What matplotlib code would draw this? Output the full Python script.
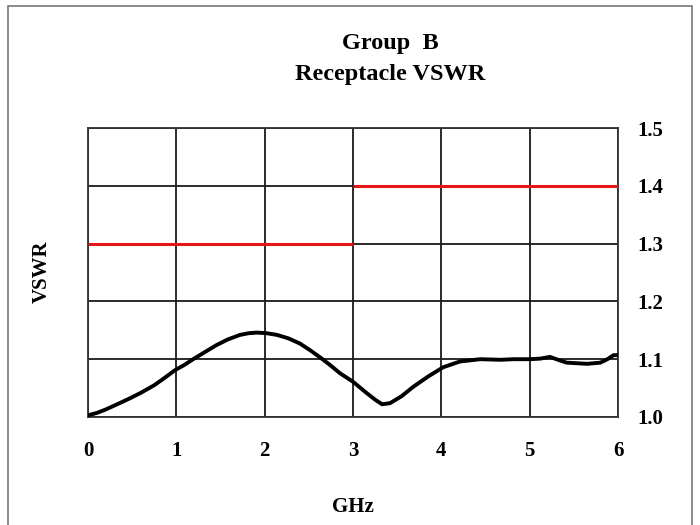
import matplotlib
matplotlib.use("Agg")
import matplotlib.pyplot as plt
from matplotlib.patches import Rectangle

plt.rcParams['font.family'] = ['Liberation Serif', 'DejaVu Serif']
plt.rcParams['font.weight'] = 'bold'

# measured VSWR curve
ghz = [0.0, 0.1, 0.2, 0.33, 0.47, 0.6, 0.75, 0.87, 0.985, 1.09, 1.19, 1.32, 1.45, 1.58,
       1.72, 1.82, 1.91, 2.02, 2.14, 2.27, 2.4, 2.51, 2.62, 2.74,
       2.85, 3.0, 3.15, 3.25, 3.33, 3.42, 3.55, 3.68, 3.85, 4.02, 4.21, 4.44, 4.67,
       4.82, 5.0, 5.12, 5.23, 5.32, 5.42, 5.65, 5.8, 5.88, 5.95, 6.0]
vswr = [1.003, 1.007, 1.013, 1.022, 1.032, 1.042, 1.055, 1.068, 1.081, 1.090, 1.10, 1.112,
        1.124, 1.134, 1.142, 1.145, 1.146, 1.145, 1.142, 1.136, 1.127, 1.116, 1.104, 1.090,
        1.076, 1.061, 1.042, 1.030, 1.022, 1.024, 1.036, 1.052, 1.070, 1.086, 1.096, 1.100, 1.099,
        1.100, 1.100, 1.101, 1.104, 1.099, 1.094, 1.092, 1.094, 1.100, 1.107, 1.107]

# spec limits
limit_x1 = [0, 3]
limit_y1 = [1.3, 1.3]
limit_x2 = [3, 6]
limit_y2 = [1.4, 1.4]

xticks = [0, 1, 2, 3, 4, 5, 6]
yticks = [1.0, 1.1, 1.2, 1.3, 1.4, 1.5]

fig = plt.figure(figsize=(7, 5.25), dpi=100)
ax = fig.add_axes([88/700, 1-417/525, 530/700, 289/525])

ax.plot(limit_x1, limit_y1, color='#e8141c', lw=2.2, solid_capstyle='butt', zorder=3)
ax.plot(limit_x2, limit_y2, color='#e8141c', lw=2.2, solid_capstyle='butt', zorder=3)
ax.plot(ghz, vswr, color='black', lw=2.8, zorder=4)

ax.set_xlim(0, 6)
ax.set_ylim(1.0, 1.5)
ax.set_xticks(xticks)
ax.set_yticks(yticks)
ax.set_xticklabels([str(v) for v in xticks], fontsize=15, fontweight='bold')
ax.set_yticklabels(['%.1f' % v for v in yticks], fontsize=15, fontweight='bold')
ax.yaxis.tick_right()
ax.tick_params(axis='x', length=0, pad=17)
ax.tick_params(axis='y', length=0, pad=14)
ax.grid(True, color='#1a1a1a', lw=1.3)
for s in ax.spines.values():
    s.set_color('#333333')
    s.set_linewidth(1.3)

ax.set_xlabel('GHz', fontsize=15, fontweight='bold', labelpad=26)
fig.text(42/700, 1-272/525, 'VSWR', rotation=90, fontsize=15, fontweight='bold',
         ha='center', va='center')
fig.text(390/700, 1-43/525, 'Group  B', fontsize=17.5, fontweight='bold', ha='center', va='center')
fig.text(390/700, 1-75/525, 'Receptacle VSWR', fontsize=17.5, fontweight='bold', ha='center', va='center')

fig.patches.append(Rectangle((8/700, -0.02), 684/700, 1.02-6/525, transform=fig.transFigure,
                             fill=False, edgecolor='#777777', lw=1.2))

fig.savefig('out.png', dpi=100)
